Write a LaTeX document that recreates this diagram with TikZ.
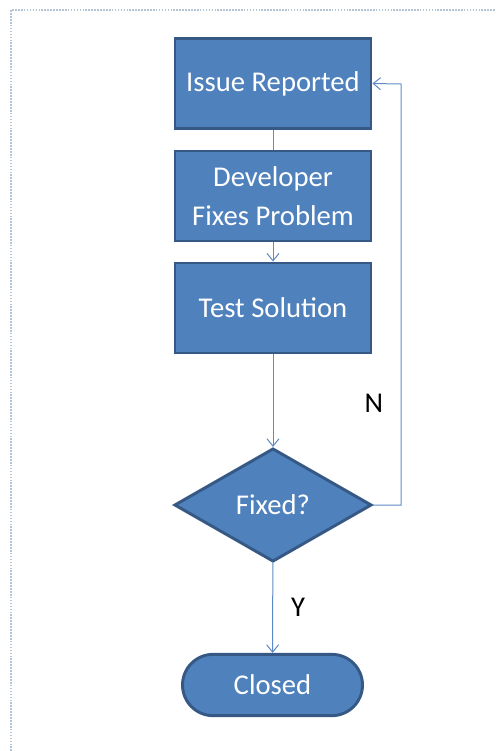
\documentclass[tikz,border=0pt]{standalone}
\usepackage{fontspec}
\setmainfont{Carlito}
\usetikzlibrary{shapes.geometric,arrows.meta}

\definecolor{boxfill}{RGB}{79,129,189}
\definecolor{boxline}{RGB}{54,88,132}
\definecolor{linkcol}{RGB}{93,138,198}
\definecolor{framecol}{RGB}{180,196,216}

\begin{document}
\begin{tikzpicture}[x=0.75pt,y=0.75pt,yscale=-1,xscale=1,
	stepbox/.style={draw=boxline,fill=boxfill,line width=2.2pt,text=white,align=center,
		minimum width=147pt,minimum height=67.5pt,inner sep=0pt,font=\fontsize{21.5}{29}\selectfont},
	decbox/.style={stepbox,shape=diamond,minimum width=148pt,minimum height=85pt},
	endbox/.style={stepbox,rounded corners=23pt,minimum width=135pt,minimum height=46pt},
	link/.style={draw=linkcol,line width=0.75pt},
	flow/.style={link,-{Straight Barb[length=5.5pt,width=9pt]}},
	answer/.style={font=\fontsize{21.5}{25}\selectfont,text=black}]
	%set diagram to the size of the reference
	\path [use as bounding box] (0,0) rectangle (496,751);
	
	%Straight Lines [frame]
	\draw [framecol,line width=1.2pt,densely dotted] (11,751) -- (11,10) -- (496,10);
	
	% Text Node
	\node [stepbox] (issue) at (273,83.5) {Issue Reported};
	% Text Node
	\node [stepbox] (fix) at (273,196) {Developer\\Fixes Problem};
	% Text Node
	\node [stepbox] (test) at (273,308) {Test Solution};
	% Text Node
	\node [decbox] (fixed) at (273,505) {Fixed?};
	% Text Node
	\node [endbox] (closed) at (272.5,685) {Closed};
	
	%Straight Lines
	\draw [link] (issue) -- (fix);
	\draw [flow] (fix) -- (test);
	\draw [flow] (test) -- (fixed);
	\draw [flow] (fixed) -- (closed);
	\draw [flow] (fixed.east) -- (401,505) -- (401,84) -- (issue.east);
	
	% Text Node
	\node [answer] (no) at (374,403) {N};
	% Text Node
	\node [answer] (yes) at (298,607) {Y};
\end{tikzpicture}
\end{document}
